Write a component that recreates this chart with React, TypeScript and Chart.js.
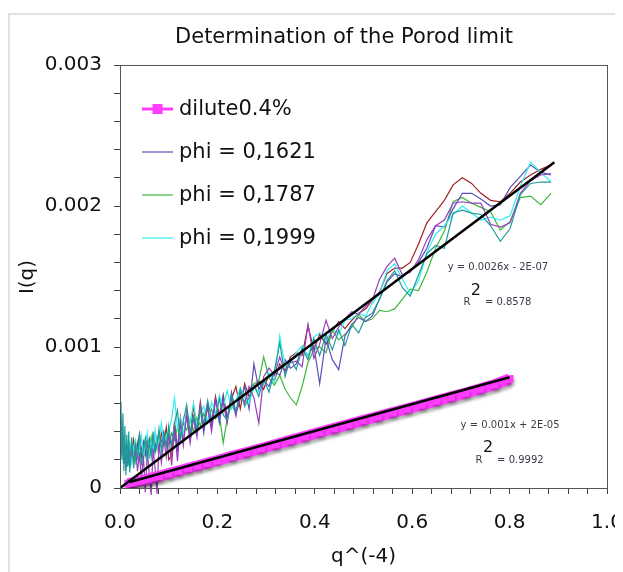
import React, { useEffect, useRef } from 'react';
import { Chart, registerables } from 'chart.js';

Chart.register(...registerables);

const chartTitle = 'Determination of the Porod limit';
const xAxisTitle = 'q^(-4)';
const yAxisTitle = 'I(q)';

const xMajorTicks = [0, 0.2, 0.4, 0.6, 0.8, 1.0];
const xTickLabels = ['0.0', '0.2', '0.4', '0.6', '0.8', '1.0'];
const yMajorTicks = [0, 0.001, 0.002, 0.003];
const yTickLabels = ['0', '0.001', '0.002', '0.003'];

const seriesLabels = ['dilute0.4%', 'phi = 0,1621', 'phi = 0,1787', 'phi = 0,1999', 'phi = 0,2210', 'phi = 0,2420', 'phi = 0,2630'];

// concentrated samples share the same q^(-4) grid
const xNoisy = [
  0.002, 0.004, 0.006, 0.008, 0.010, 0.012, 0.014, 0.016, 0.018, 0.020,
  0.024, 0.028, 0.032, 0.036, 0.040, 0.044, 0.048, 0.052, 0.056, 0.060,
  0.064, 0.068, 0.072, 0.076, 0.080, 0.085, 0.090, 0.095, 0.100,
  0.106, 0.112, 0.118, 0.124, 0.130, 0.137, 0.144, 0.151, 0.158, 0.165,
  0.172, 0.180, 0.188, 0.196, 0.204, 0.212, 0.220, 0.229, 0.238, 0.247,
  0.256, 0.265, 0.275, 0.285, 0.295,
  0.306, 0.317, 0.328, 0.339, 0.350, 0.362, 0.374, 0.386, 0.398, 0.410,
  0.423, 0.436, 0.449, 0.462, 0.476, 0.490, 0.504, 0.518, 0.533, 0.548,
  0.564, 0.580, 0.596, 0.613, 0.630, 0.648, 0.666, 0.684, 0.703, 0.722,
  0.741, 0.761, 0.781, 0.801, 0.822, 0.843, 0.864, 0.885,
];

const yPhi1621 = [
  4.3e-4, 2.8e-4, 3.4e-4, 1.9e-4, 2.9e-4, 2.2e-4, 1.6e-4, 2.7e-4, 1.8e-4, 2.5e-4,
  2.9e-4, 1.7e-4, 2.6e-4, 3.1e-4, 2.0e-4, 2.8e-4, 3.3e-4, 2.3e-4, 2.9e-4, 3.5e-4,
  2.4e-4, 3.1e-4, 2.6e-4, 3.6e-4, 2.9e-4, 3.3e-4, 4.0e-4, 3.1e-4, 3.7e-4,
  3.0e-4, 4.4e-4, 2.8e-4, 4.8e-4, 3.5e-4, 5.2e-4, 3.4e-4, 5.0e-4, 4.0e-4, 5.6e-4,
  3.9e-4, 6.0e-4, 4.5e-4, 6.3e-4, 4.6e-4, 6.5e-4, 4.9e-4, 6.8e-4, 5.3e-4, 6.3e-4,
  7.2e-4, 5.6e-4, 8.8e-4, 7.0e-4, 7.6e-4,
  7.2e-4, 8.3e-4, 8.0e-4, 9.1e-4, 8.5e-4, 8.8e-4, 9.9e-4, 9.4e-4, 10.1e-4, 7.4e-4,
  10.6e-4, 9.1e-4, 8.4e-4, 10.8e-4, 11.6e-4, 12.1e-4, 11.8e-4, 12.2e-4, 13.4e-4, 14.6e-4,
  15.2e-4, 15.0e-4, 15.4e-4, 16.0e-4, 17.0e-4, 18.6e-4, 18.5e-4, 19.8e-4, 20.9e-4, 20.9e-4,
  20.5e-4, 20.0e-4, 20.1e-4, 21.3e-4, 22.1e-4, 22.9e-4, 22.4e-4, 22.2e-4,
];

const yPhi1787 = [
  3.4e-4, 4.1e-4, 2.2e-4, 3.0e-4, 1.7e-4, 2.6e-4, 2.0e-4, 3.1e-4, 1.6e-4, 2.4e-4,
  2.1e-4, 2.9e-4, 1.9e-4, 3.2e-4, 2.3e-4, 2.8e-4, 2.0e-4, 3.4e-4, 2.5e-4, 2.9e-4,
  3.6e-4, 2.4e-4, 3.2e-4, 2.7e-4, 3.8e-4, 2.9e-4, 3.4e-4, 3.9e-4, 3.0e-4,
  3.9e-4, 3.4e-4, 4.3e-4, 3.7e-4, 4.6e-4, 4.1e-4, 4.9e-4, 4.0e-4, 5.0e-4, 4.4e-4,
  5.3e-4, 4.6e-4, 5.6e-4, 4.9e-4, 5.2e-4, 3.2e-4, 4.9e-4, 6.0e-4, 5.3e-4, 6.5e-4,
  6.1e-4, 7.0e-4, 7.4e-4, 7.6e-4, 9.3e-4,
  7.8e-4, 7.3e-4, 8.0e-4, 7.0e-4, 6.4e-4, 5.9e-4, 7.2e-4, 8.9e-4, 9.8e-4, 10.0e-4,
  9.6e-4, 11.2e-4, 10.5e-4, 10.9e-4, 11.4e-4, 12.3e-4, 11.8e-4, 12.0e-4, 12.6e-4, 12.5e-4,
  12.7e-4, 13.4e-4, 14.1e-4, 14.0e-4, 15.3e-4, 17.0e-4, 18.2e-4, 20.3e-4, 20.6e-4, 20.2e-4,
  19.9e-4, 19.6e-4, 18.3e-4, 18.9e-4, 20.6e-4, 20.7e-4, 20.1e-4, 20.9e-4,
];

const yPhi1999 = [
  5.0e-4, 3.2e-4, 1.8e-4, 3.6e-4, 2.3e-4, 1.4e-4, 3.0e-4, 2.0e-4, 2.6e-4, 3.3e-4,
  1.8e-4, 2.9e-4, 3.4e-4, 2.1e-4, 2.7e-4, 3.7e-4, 2.2e-4, 3.0e-4, 3.9e-4, 2.4e-4,
  3.3e-4, 2.7e-4, 4.1e-4, 2.8e-4, 3.4e-4, 4.6e-4, 3.0e-4, 3.7e-4, 4.0e-4,
  4.9e-4, 6.4e-4, 4.2e-4, 5.0e-4, 3.8e-4, 5.4e-4, 4.6e-4, 6.0e-4, 4.4e-4, 5.2e-4,
  5.8e-4, 4.7e-4, 6.1e-4, 5.3e-4, 6.6e-4, 5.7e-4, 6.9e-4, 5.6e-4, 6.2e-4, 7.1e-4,
  6.4e-4, 6.0e-4, 7.2e-4, 6.8e-4, 7.4e-4,
  8.2e-4, 7.5e-4, 10.8e-4, 8.6e-4, 9.0e-4, 9.6e-4, 10.1e-4, 9.3e-4, 10.7e-4, 11.0e-4,
  10.4e-4, 11.3e-4, 10.9e-4, 11.9e-4, 12.0e-4, 12.4e-4, 12.2e-4, 13.1e-4, 13.8e-4, 15.4e-4,
  15.9e-4, 14.8e-4, 13.8e-4, 14.7e-4, 16.7e-4, 18.0e-4, 18.6e-4, 19.4e-4, 20.0e-4, 19.5e-4,
  19.0e-4, 19.2e-4, 19.0e-4, 19.3e-4, 21.4e-4, 23.1e-4, 22.4e-4, 21.7e-4,
];

const yPhiRed = [
  3.9e-4, 2.5e-4, 3.3e-4, 1.7e-4, 2.8e-4, 1.5e-4, 2.9e-4, 1.9e-4, 2.4e-4, 3.0e-4,
  2.2e-4, 3.4e-4, 2.4e-4, 2.9e-4, 3.8e-4, 2.1e-4, 3.0e-4, 2.6e-4, 3.6e-4, 2.3e-4,
  3.1e-4, 3.7e-4, 2.7e-4, 3.4e-4, 2.8e-4, 3.9e-4, 3.2e-4, 4.3e-4, 2.0e-4,
  2.3e-4, 4.7e-4, 2.6e-4, 5.0e-4, 3.4e-4, 5.4e-4, 3.6e-4, 5.9e-4, 4.0e-4, 6.1e-4,
  4.2e-4, 6.0e-4, 4.5e-4, 6.5e-4, 5.1e-4, 6.6e-4, 4.9e-4, 6.3e-4, 7.2e-4, 5.6e-4,
  7.4e-4, 6.5e-4, 7.1e-4, 7.6e-4, 7.0e-4,
  8.1e-4, 7.6e-4, 8.8e-4, 8.3e-4, 9.3e-4, 9.6e-4, 9.4e-4, 11.5e-4, 9.8e-4, 10.9e-4,
  10.2e-4, 11.1e-4, 11.8e-4, 11.3e-4, 11.9e-4, 12.4e-4, 12.7e-4, 13.3e-4, 13.9e-4, 15.2e-4,
  15.6e-4, 15.6e-4, 16.0e-4, 17.3e-4, 18.8e-4, 19.6e-4, 20.4e-4, 21.5e-4, 22.0e-4, 21.6e-4,
  20.9e-4, 20.4e-4, 20.3e-4, 20.9e-4, 21.7e-4, 22.2e-4, 22.6e-4, 22.9e-4,
];

const yPhiPurple = [
  4.7e-4, 2.3e-4, 3.6e-4, 1.8e-4, 2.9e-4, 1.3e-4, 2.6e-4, 1.9e-4, 2.7e-4, 1.4e-4,
  3.0e-4, 2.0e-4, 2.7e-4, 1.2e-4, 2.5e-4, 0.6e-4, 2.3e-4, -0.3e-4, 2.6e-4, 1.0e-4,
  -0.5e-4, 2.8e-4, 1.4e-4, -0.4e-4, 3.1e-4, 1.8e-4, 3.5e-4, 2.2e-4, 3.9e-4,
  1.6e-4, 4.2e-4, 1.9e-4, 4.6e-4, 3.0e-4, 5.3e-4, 3.2e-4, 5.0e-4, 3.6e-4, 5.9e-4,
  4.4e-4, 5.7e-4, 4.0e-4, 6.2e-4, 5.1e-4, 6.1e-4, 4.6e-4, 6.5e-4, 5.1e-4, 6.8e-4,
  6.0e-4, 7.2e-4, 6.4e-4, 4.6e-4, 7.9e-4,
  8.5e-4, 8.0e-4, 9.3e-4, 8.2e-4, 8.9e-4, 9.0e-4, 8.6e-4, 11.6e-4, 9.2e-4, 10.2e-4,
  11.9e-4, 10.6e-4, 11.4e-4, 12.0e-4, 12.5e-4, 12.3e-4, 12.9e-4, 13.3e-4, 14.8e-4, 15.7e-4,
  16.3e-4, 15.1e-4, 15.3e-4, 16.2e-4, 17.6e-4, 18.6e-4, 19.0e-4, 20.2e-4, 20.3e-4, 20.2e-4,
  20.2e-4, 18.7e-4, 18.5e-4, 18.8e-4, 20.9e-4, 21.8e-4, 22.2e-4, 22.3e-4,
];

const yPhiTeal = [
  6.1e-4, 2.0e-4, 5.3e-4, 1.2e-4, 4.4e-4, 0.9e-4, 3.8e-4, 1.5e-4, 4.0e-4, 1.1e-4,
  3.6e-4, 1.4e-4, 3.2e-4, 2.0e-4, 3.9e-4, 1.6e-4, 2.8e-4, 3.5e-4, 1.9e-4, 3.3e-4,
  2.2e-4, 4.0e-4, 2.5e-4, 3.1e-4, 4.2e-4, 2.6e-4, 3.8e-4, 2.9e-4, 4.4e-4,
  3.0e-4, 4.6e-4, 5.5e-4, 3.4e-4, 4.8e-4, 5.9e-4, 3.9e-4, 5.1e-4, 4.2e-4, 5.6e-4,
  4.5e-4, 6.2e-4, 4.9e-4, 5.0e-4, 6.3e-4, 5.2e-4, 4.8e-4, 6.6e-4, 5.4e-4, 7.0e-4,
  5.8e-4, 6.4e-4, 7.3e-4, 6.5e-4, 7.7e-4,
  6.8e-4, 8.3e-4, 10.3e-4, 7.9e-4, 9.2e-4, 8.4e-4, 9.9e-4, 9.1e-4, 10.6e-4, 9.4e-4,
  10.9e-4, 9.8e-4, 11.2e-4, 10.1e-4, 11.6e-4, 11.0e-4, 12.1e-4, 12.4e-4, 13.4e-4, 14.7e-4,
  15.4e-4, 14.2e-4, 13.6e-4, 15.1e-4, 16.6e-4, 17.2e-4, 17.0e-4, 19.5e-4, 19.7e-4, 19.5e-4,
  19.4e-4, 18.6e-4, 17.5e-4, 18.4e-4, 20.8e-4, 21.6e-4, 21.7e-4, 21.7e-4,
];

const xDilute = [
  0.017, 0.02, 0.025, 0.03, 0.04, 0.05, 0.06, 0.07, 0.08, 0.10,
  0.12, 0.14, 0.16, 0.18, 0.20, 0.23, 0.26, 0.29, 0.32, 0.35,
  0.38, 0.41, 0.44, 0.47, 0.50, 0.53, 0.56, 0.59, 0.62, 0.65,
  0.68, 0.71, 0.74, 0.77, 0.80,
];
const yDilute = [
  3.0e-5, 3.3e-5, 3.6e-5, 4.0e-5, 4.8e-5, 5.6e-5, 6.5e-5, 7.5e-5, 8.3e-5, 10.2e-5,
  12.1e-5, 14.0e-5, 15.8e-5, 17.7e-5, 19.5e-5, 22.4e-5, 25.2e-5, 28.0e-5, 30.9e-5, 33.8e-5,
  36.6e-5, 39.5e-5, 42.3e-5, 45.1e-5, 48.0e-5, 50.7e-5, 53.5e-5, 56.2e-5, 59.0e-5, 61.8e-5,
  64.6e-5, 67.4e-5, 70.3e-5, 73.4e-5, 77.3e-5,
];

// linear trend lines (Excel fits)
const fitConcX = [0, 0.892];
const fitConcY = [0, 0.00231];
const fitDiluteX = [0.02, 0.8];
const fitDiluteY = [0.000042, 0.000785];

const fitConcEq = 'y = 0.0026x - 2E-07';
const fitConcR2 = '= 0.8578';
const fitDiluteEq = 'y = 0.001x + 2E-05';
const fitDiluteR2 = '= 0.9992';

const FONT = "'DejaVu Sans', Verdana, sans-serif";

const zip = (xs: number[], ys: number[]) => xs.map((x, i) => ({ x, y: ys[i] }));

export default function App() {
  const ref = useRef<HTMLCanvasElement | null>(null);

  useEffect(() => {
    if (!ref.current) return;
    document.documentElement.style.overflow = 'hidden';
    document.body.style.overflow = 'hidden';

    const noisy = (label: string, ys: number[], color: string, order: number, inLegend: boolean) => ({
      label,
      data: zip(xNoisy, ys),
      showLine: true,
      borderColor: color,
      backgroundColor: color,
      borderWidth: 1.2,
      pointRadius: 0,
      tension: 0,
      order,
      clip: false as any,
      inLegend,
    });

    const decor = {
      id: 'decor',
      beforeDatasetDraw(chart: any, args: any) {
        const ds = chart.data.datasets[args.index];
        if (ds.shadow) {
          chart.ctx.save();
          chart.ctx.shadowColor = 'rgba(0,0,0,0.3)';
          chart.ctx.shadowOffsetY = 3;
          chart.ctx.shadowOffsetX = 1;
          chart.ctx.shadowBlur = 3;
        }
      },
      afterDatasetDraw(chart: any, args: any) {
        const ds = chart.data.datasets[args.index];
        if (ds.shadow) chart.ctx.restore();
      },
      afterDraw(chart: any) {
        const { ctx, chartArea: ca, scales } = chart;
        ctx.save();
        // plot frame
        ctx.strokeStyle = '#555';
        ctx.lineWidth = 1;
        ctx.strokeRect(Math.round(ca.left) + 0.5, Math.round(ca.top) + 0.5, Math.round(ca.right - ca.left), Math.round(ca.bottom - ca.top));

        ctx.fillStyle = '#111';
        // title
        ctx.font = `21px ${FONT}`;
        ctx.textAlign = 'center';
        ctx.textBaseline = 'middle';
        ctx.fillText(chartTitle, 334, 23);
        // x axis title
        ctx.font = `20px ${FONT}`;
        ctx.fillText(xAxisTitle, (ca.left + ca.right) / 2, 542);
        // y axis title
        ctx.save();
        ctx.translate(18, 262);
        ctx.rotate(-Math.PI / 2);
        ctx.fillText(yAxisTitle, 0, 0);
        ctx.restore();

        // legend (inside plot, top-left)
        ctx.textAlign = 'left';
        ctx.font = `21px ${FONT}`;
        let ly = ca.top + 44;
        chart.data.datasets.forEach((ds: any) => {
          if (!ds.inLegend) return;
          const x0 = ca.left + 22;
          const x1 = ca.left + 53;
          ctx.strokeStyle = ds.borderColor;
          ctx.lineWidth = ds.legendLineWidth || 1.2;
          ctx.beginPath();
          ctx.moveTo(x0, ly);
          ctx.lineTo(x1, ly);
          ctx.stroke();
          if (ds.legendMarker) {
            ctx.fillStyle = ds.borderColor;
            ctx.fillRect((x0 + x1) / 2 - 5, ly - 5, 10, 10);
          }
          ctx.fillStyle = '#111';
          ctx.fillText(ds.label, ca.left + 59, ly + 1);
          ly += 43;
        });

        // fit annotations
        const drawFit = (ax: number, ay: number, eq: string, r2: string) => {
          const px = scales.x.getPixelForValue(ax);
          const py = scales.y.getPixelForValue(ay);
          ctx.fillStyle = '#3b3b4a';
          ctx.font = `10px ${FONT}`;
          ctx.textAlign = 'center';
          ctx.fillText(eq, px, py);
          ctx.fillText('R', px - 31, py + 35);
          ctx.textAlign = 'left';
          ctx.fillText(r2, px - 13, py + 35);
          ctx.fillStyle = '#111';
          ctx.font = `16px ${FONT}`;
          ctx.textAlign = 'center';
          ctx.fillText('2', px - 22, py + 23);
        };
        drawFit(0.776, 0.001561, fitConcEq, fitConcR2);
        drawFit(0.801, 0.000446, fitDiluteEq, fitDiluteR2);
        ctx.restore();
      },
    };

    const chart = new Chart(ref.current, {
      type: 'scatter',
      data: {
        datasets: [
          {
            label: 'fit concentrated',
            data: zip(fitConcX, fitConcY),
            showLine: true,
            borderColor: '#000',
            borderWidth: 2.5,
            pointRadius: 0,
            order: 0,
            inLegend: false,
          } as any,
          {
            label: 'fit dilute',
            data: zip(fitDiluteX, fitDiluteY),
            showLine: true,
            borderColor: '#000',
            borderWidth: 2.5,
            pointRadius: 0,
            order: 1,
            inLegend: false,
          } as any,
          {
            label: seriesLabels[0],
            data: zip(xDilute, yDilute),
            showLine: true,
            borderColor: '#ff3cff',
            backgroundColor: '#ff3cff',
            borderWidth: 11,
            pointStyle: 'rect',
            pointRadius: 5.5,
            pointBorderWidth: 0,
            order: 2,
            inLegend: true,
            legendMarker: true,
            legendLineWidth: 3,
            shadow: true,
          } as any,
          noisy(seriesLabels[1], yPhi1621, '#5a50bd', 6, true) as any,
          noisy(seriesLabels[2], yPhi1787, '#3cb83c', 7, true) as any,
          noisy(seriesLabels[3], yPhi1999, '#33eeee', 5, true) as any,
          noisy(seriesLabels[4], yPhiRed, '#9e2228', 8, false) as any,
          noisy(seriesLabels[5], yPhiPurple, '#9a3dbd', 4, false) as any,
          noisy(seriesLabels[6], yPhiTeal, '#1f9a9a', 3, false) as any,
        ],
      },
      options: {
        animation: false,
        responsive: true,
        maintainAspectRatio: false,
        layout: { padding: { left: 0, right: 16, top: 50, bottom: 0 } },
        plugins: {
          legend: { display: false },
          title: { display: false },
          tooltip: { enabled: false },
        },
        scales: {
          x: {
            type: 'linear',
            min: 0,
            max: 1,
            afterFit: (s: any) => { s.height = 84; s.paddingLeft = 0; s.paddingRight = 0; },
            border: { display: true, color: '#444', width: 1 },
            grid: { display: true, drawOnChartArea: false, drawTicks: true, tickLength: 6, color: '#444' },
            ticks: {
              stepSize: 0.04,
              autoSkip: false,
              maxRotation: 0,
              padding: 17,
              color: '#111',
              font: { family: FONT, size: 20 },
              callback: (v: any) => {
                const i = xMajorTicks.findIndex((m) => Math.abs(m - Number(v)) < 1e-9);
                return i >= 0 ? xTickLabels[i] : '';
              },
            },
          },
          y: {
            type: 'linear',
            min: 0,
            max: 0.003,
            afterFit: (s: any) => { s.width = 110; s.paddingTop = 0; s.paddingBottom = 0; },
            border: { display: true, color: '#444', width: 1 },
            grid: { display: true, drawOnChartArea: false, drawTicks: true, tickLength: 6, color: '#444' },
            ticks: {
              stepSize: 0.0002,
              autoSkip: false,
              padding: 12,
              color: '#111',
              font: { family: FONT, size: 20 },
              callback: (v: any) => {
                const i = yMajorTicks.findIndex((m) => Math.abs(m - Number(v)) < 1e-12);
                return i >= 0 ? yTickLabels[i] : '';
              },
            },
          },
        },
      } as any,
      plugins: [decor],
    });

    return () => chart.destroy();
  }, []);

  return (
    <div style={{ paddingTop: 5 }}>
      <div
        style={{
          borderLeft: '2px solid #e2e2e2',
          borderTop: '2px solid #e2e2e2',
          width: 613,
          height: 557,
          position: 'relative',
        }}
      >
        <canvas ref={ref} />
      </div>
    </div>
  );
}
